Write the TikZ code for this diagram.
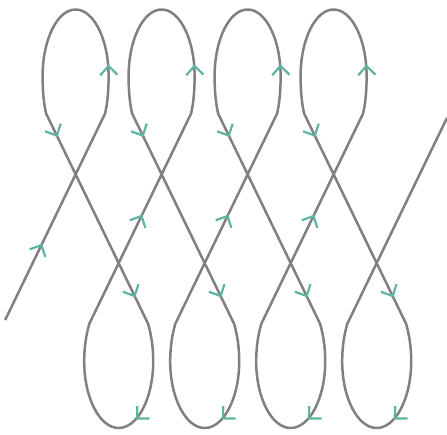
\documentclass[tikz,border=0pt]{standalone}
\usetikzlibrary{calc}
\definecolor{curvegray}{RGB}{128,128,130}
\definecolor{arrowteal}{RGB}{93,181,160}
\tikzset{
  curve/.style={draw=curvegray, line width=2.5pt, line join=round},
  chev/.style={draw=arrowteal, line width=2.2pt},
}
% top loop: from right kink up, over the top, down to left kink (#1 = centre x)
\newcommand\toparc[1]{%
  .. controls ({#1+31.6},104) and ({#1+33},93) .. ({#1+33},76)
  .. controls ({#1+33},39.5) and ({#1+18.2},9.5) .. ({#1},9.5)
  .. controls ({#1-18.2},9.5) and ({#1-33},39.5) .. ({#1-33},76)
  .. controls ({#1-33},93) and ({#1-31.6},104) .. ({#1-29.5},113.5)}
% bottom loop: from right kink down, round the bottom, up to left kink (#1 = centre x)
\newcommand\botarc[1]{%
  .. controls ({#1+32},333.5) and ({#1+34.5},344.5) .. ({#1+34.5},361.5)
  .. controls ({#1+34.5},398) and ({#1+19},428) .. ({#1},428)
  .. controls ({#1-19},428) and ({#1-34.5},398) .. ({#1-34.5},361.5)
  .. controls ({#1-34.5},344.5) and ({#1-32},333.5) .. ({#1-29.5},324)}
\newcommand\chevat[2]{\draw[chev, shift={(#1)}, rotate=#2] (-9,8.7) -- (0,0) -- (-9,-8.7);}
\begin{document}
\begin{tikzpicture}[x=1pt,y=-1pt]
\useasboundingbox (0,0) rectangle (447,434);
% kink coordinates
\foreach \k/\c/\b in {0/75.6/118.7, 1/161.6/204.7, 2/247.6/290.7, 3/333.6/376.7}{
  \coordinate (TL\k) at ({\c-29.5},113.5);
  \coordinate (TR\k) at ({\c+29.5},113.5);
  \coordinate (BL\k) at ({\b-29.5},324);
  \coordinate (BR\k) at ({\b+29.5},324);
}
\coordinate (S0) at (3.2,324);
\coordinate (TR4) at (449.1,113.5);
\coordinate (S) at ($(S0)!0.019!(TR0)$);
\coordinate (E) at ($(BL3)!0.979!(TR4)$);
% the curve
\draw[curve] (S) -- (TR0) \toparc{75.6} -- (BR0) \botarc{118.7}
  -- (TR1) \toparc{161.6} -- (BR1) \botarc{204.7}
  -- (TR2) \toparc{247.6} -- (BR2) \botarc{290.7}
  -- (TR3) \toparc{333.6} -- (BR3) \botarc{376.7} -- (E);
% arrow chevrons
\chevat{$(S0)!0.375!(TR0)$}{64.12}
\foreach \k/\n in {0/1,1/2,2/3}{
  \chevat{$(BL\k)!0.513!(TR\n)$}{64.12}
}
\foreach \k/\c/\b in {0/75.6/118.7, 1/161.6/204.7, 2/247.6/290.7, 3/333.6/376.7}{
  \chevat{$(TL\k)!0.105!(BR\k)$}{-64.12}
  \chevat{$(TL\k)!0.867!(BR\k)$}{-64.12}
  \chevat{{\c+32.9},66}{92}
  \chevat{{\b+18.3},418.6}{-135}
}
\end{tikzpicture}
\end{document}
